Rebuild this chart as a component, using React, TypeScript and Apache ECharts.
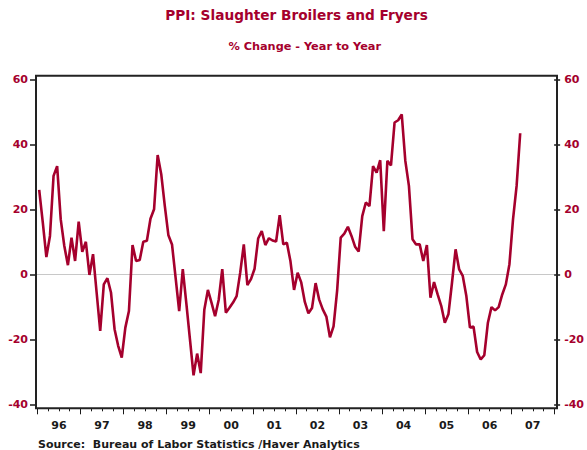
import React, { useEffect, useRef } from 'react';
import * as echarts from 'echarts';

const years = ['96', '97', '98', '99', '00', '01', '02', '03', '04', '05', '06', '07'];
const v1996 = [26, 16, 5.3, 11.8, 30.3, 33.3, 16.9, 8.7, 2.8, 11.3, 4.1, 16.2];
const v1997 = [6.9, 10, -0.2, 6.2, -5.6, -17.4, -3.1, -1.2, -5.6, -16.9, -22, -25.6];
const v1998 = [-16.4, -11.3, 9, 4.1, 4.4, 10, 10.3, 17.1, 20, 36.7, 30.8, 21];
const v1999 = [12, 9.2, -1, -11.3, 1.6, -9, -20, -31.1, -24.4, -30.4, -10.9, -4.8];
const v2000 = [-8.7, -12.9, -7.9, 1.6, -11.8, -10.3, -8.7, -6.7, 0.5, 9.2, -3.3, -1.5];
const v2001 = [1.7, 11, 13.3, 9, 11.1, 10.4, 10.1, 18.2, 9.2, 9.7, 4, -4.8];
const v2002 = [0.5, -2.5, -8.5, -12, -10.4, -2.7, -7.8, -10.8, -13, -19.4, -16, -5];
const v2003 = [11.3, 12.5, 14.6, 11.8, 8.5, 7, 17.9, 22.1, 21, 33.3, 31.3, 35.1];
const v2004 = [13.3, 34.9, 33.5, 46.7, 47.4, 49.2, 34.9, 27.2, 10.8, 9.2, 9.2, 4.1];
const v2005 = [9, -7.2, -2.4, -6.2, -9.7, -14.9, -12.3, -2.6, 7.7, 1.5, -0.5, -6.7];
const v2006 = [-16.4, -16.1, -23.9, -26.2, -24.9, -14.9, -10.1, -11.1, -10.1, -6.2, -3.1, 3.1];
const v2007 = [16.9, 27.2, 43.4];

const values = [
  ...v1996, ...v1997, ...v1998, ...v1999, ...v2000, ...v2001,
  ...v2002, ...v2003, ...v2004, ...v2005, ...v2006, ...v2007,
];

const TITLE = 'PPI: Slaughter Broilers and Fryers';
const SUBTITLE = '% Change - Year to Year';
const SOURCE = 'Source:  Bureau of Labor Statistics /Haver Analytics';

export default function App() {
  const ref = useRef<HTMLDivElement>(null);
  useEffect(() => {
    document.body.style.margin = '0';
    const chart = echarts.init(ref.current!, null, { renderer: 'svg' });
    const RED = '#A5002D';
    const DARK = '#1a1a1a';
    const font = 'DejaVu Sans';
    const top = 79.3;
    const bottom = 45.7;
    const clear = 'rgba(0,0,0,0)';
    const yCommon = {
      type: 'value',
      min: -40,
      max: 60,
      interval: 20,
      axisLine: { show: false, onZero: false },
      axisTick: { show: true, inside: false, length: 6, lineStyle: { color: DARK, width: 1.5 } },
    };
    chart.setOption({
      animation: false,
      grid: [
        { left: 36, right: 30, top, bottom },
        { left: 37.4, right: 32.7, top, bottom },
      ],
      xAxis: [
        { gridIndex: 0, type: 'value', min: 0, max: 1, show: false, axisLine: { onZero: false } },
        {
          gridIndex: 1,
          type: 'value',
          position: 'bottom',
          min: 0,
          max: 144,
          interval: 12,
          offset: 4,
          axisLine: { show: false, onZero: false },
          axisTick: { show: true, inside: false, length: 6, lineStyle: { color: DARK, width: 1 } },
          minorTick: { show: true, splitNumber: 4, length: 3, lineStyle: { color: DARK, width: 1 } },
          axisLabel: { show: false },
          splitLine: { show: false },
          minorSplitLine: { show: false },
        },
        {
          gridIndex: 1,
          type: 'category',
          position: 'bottom',
          data: years,
          offset: 4,
          axisLine: { show: false, onZero: false },
          axisTick: { show: false },
          axisLabel: { margin: 12, color: DARK, fontFamily: font, fontWeight: 'bold', fontSize: 11 },
          splitLine: { show: false },
        },
      ],
      yAxis: [
        {
          ...yCommon,
          gridIndex: 0,
          position: 'left',
          axisLabel: { margin: 8, color: RED, fontFamily: font, fontWeight: 'bold', fontSize: 11 },
          splitLine: {
            show: true,
            lineStyle: { type: 'solid', color: [clear, clear, '#c8c8c8', clear, clear, clear], width: 1 },
          },
        },
        {
          ...yCommon,
          gridIndex: 0,
          position: 'right',
          axisLabel: { margin: 10, color: RED, fontFamily: font, fontWeight: 'bold', fontSize: 11 },
          splitLine: { show: false },
        },
        {
          gridIndex: 1,
          type: 'value',
          min: -40,
          max: 60,
          show: false,
          axisLine: { onZero: false },
          splitLine: { show: false },
        },
      ],
      series: [
        {
          type: 'line',
          xAxisIndex: 1,
          yAxisIndex: 2,
          data: values.map((v, i) => [i + 0.5, v]),
          symbol: 'none',
          silent: true,
          lineStyle: { color: RED, width: 2.6 },
        },
      ],
      graphic: [
        {
          type: 'rect',
          z: 100,
          shape: { x: 36, y: 75.7, width: 521, height: 332.6 },
          style: { fill: 'none', stroke: '#222', lineWidth: 2 },
        },
        {
          type: 'text',
          x: 296.5,
          y: 15,
          style: {
            text: TITLE,
            fill: RED,
            fontFamily: font,
            fontWeight: 'bold',
            fontSize: 13.7,
            textAlign: 'center',
            textVerticalAlign: 'middle',
          },
        },
        {
          type: 'text',
          x: 304.7,
          y: 46.7,
          style: {
            text: SUBTITLE,
            fill: RED,
            fontFamily: font,
            fontWeight: 'bold',
            fontSize: 11.3,
            textAlign: 'center',
            textVerticalAlign: 'middle',
          },
        },
        {
          type: 'text',
          x: 38,
          y: 444.5,
          style: {
            text: SOURCE,
            fill: DARK,
            fontFamily: font,
            fontWeight: 'bold',
            fontSize: 11,
            textAlign: 'left',
            textVerticalAlign: 'middle',
          },
        },
      ],
    });
    return () => chart.dispose();
  }, []);
  return <div ref={ref} style={{ width: 587, height: 450 }} />;
}
